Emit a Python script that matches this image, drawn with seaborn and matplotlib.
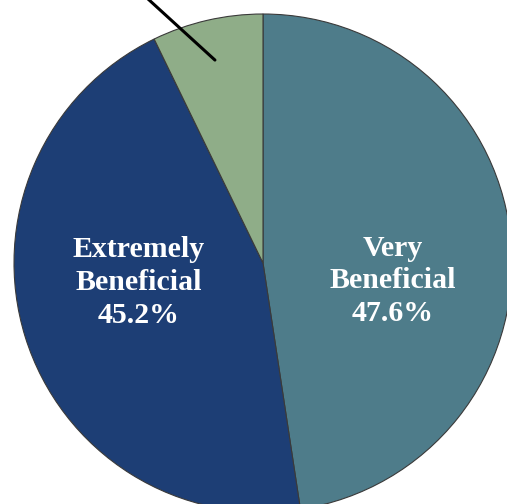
import matplotlib
matplotlib.use("Agg")
import matplotlib.pyplot as plt
import seaborn as sns

sns.set_style("white")
plt.rcParams["font.family"] = ["Liberation Serif", "DejaVu Serif"]

# Survey responses: perceived benefit
categories = ["Very Beneficial", "Extremely Beneficial", "Other"]
shares = [47.6, 45.2, 7.2]
colors = ["#4E7C8A", "#1D3E75", "#8FAD88"]

fig = plt.figure(figsize=(5.07, 5.04), dpi=100)
ax = fig.add_axes([0, 0, 1, 1])

wedges, _ = ax.pie(
    shares,
    colors=colors,
    startangle=90,
    counterclock=False,
    radius=1.0,
    wedgeprops=dict(edgecolor="#3a3a3a", linewidth=0.8),
)

# Leader line for the small slice (its label sits outside the view)
ax.plot([-0.193, -0.56], [0.815, 1.15], color="black", lw=2.2,
        solid_capstyle="round", zorder=5)

# In-slice labels
label_pos = {"Very Beneficial": (0.52, -0.072),
             "Extremely Beneficial": (-0.498, -0.078)}
for cat, val in zip(categories, shares):
    if cat not in label_pos:
        continue
    x, y = label_pos[cat]
    text = cat.replace(" ", "\n") + f"\n{val:.1f}%"
    ax.text(x, y, text, ha="center", va="center", color="white",
            fontsize=21.5, fontweight="bold", linespacing=1.28, zorder=6)

scale = 249.0
cx, cy = 263.0, 263.0
ax.set_xlim(-cx / scale, (507 - cx) / scale)
ax.set_ylim(-(504 - cy) / scale, cy / scale)
ax.set_aspect("auto")
ax.axis("off")

fig.savefig("out.png", dpi=100)
